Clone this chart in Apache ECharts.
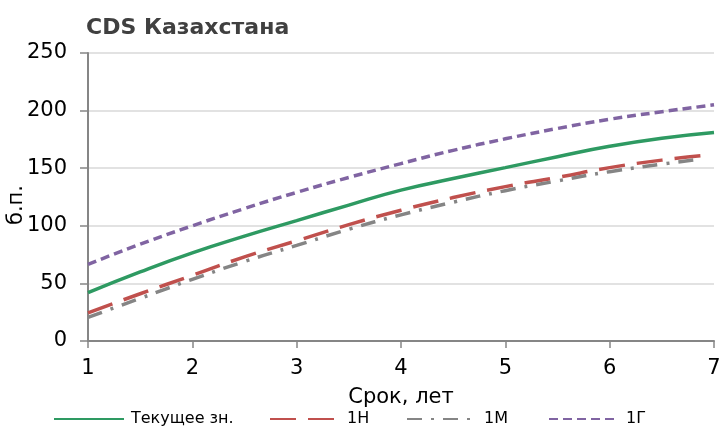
<!DOCTYPE html>
<html>
<head>
<meta charset="utf-8">
<script src="https://cdn.jsdelivr.net/npm/echarts@6/dist/echarts.min.js"></script>
<style>
  html, body { margin: 0; padding: 0; background: #fff; }
  #chart { width: 721px; height: 428px; }
</style>
</head>
<body>
<div id="chart"></div>
<script>
// Maturity in years and CDS spreads (basis points) for each curve
const tenors = [1, 1.5, 2, 2.5, 3, 3.5, 4, 4.5, 5, 5.5, 6, 6.5, 7];
const tenorsWeek = [1, 1.5, 2, 2.5, 3, 3.5, 4, 4.5, 5, 5.5, 6, 6.5, 6.9];
const tenorsMonth = [1, 1.5, 2, 2.5, 3, 3.5, 4, 4.5, 5, 5.5, 6, 6.5, 6.88];
const current = [42, 60, 76.5, 91, 104.5, 118, 131, 141, 150.5, 160, 169, 176, 181];
const weekAgo = [24.5, 41, 57, 73, 87, 101, 113.5, 124.5, 134, 142, 150.5, 157, 161];
const monthAgo = [20.5, 37, 53.5, 69, 83, 97, 109.5, 120.5, 130.5, 139, 147, 153.5, 158];
const yearAgo = [66.5, 84, 100, 115, 129, 142, 154, 165.5, 175.5, 184.5, 192.5, 199, 205];
const seriesNames = ['Текущее зн.', '1Н', '1М', '1Г'];
const xTicks = [1, 2, 3, 4, 5, 6, 7];
const yTicks = [0, 50, 100, 150, 200, 250];

const FONT = 'DejaVu Sans';
const pairs = (xs, ys) => xs.map((x, i) => [x, ys[i]]);

function lineSeries(name, xs, ys, color, dash) {
  return {
    name: name,
    type: 'line',
    data: pairs(xs, ys),
    smooth: true,
    symbol: 'none',
    lineStyle: { color: color, width: 3.5, type: dash, cap: 'butt' },
    itemStyle: { color: color }
  };
}

function legendAt(name, left) {
  return {
    data: [name],
    left: left,
    top: 411,
    itemWidth: 70,
    itemHeight: 14,
    padding: 0,
    itemStyle: { opacity: 0 },
    textStyle: { fontFamily: FONT, fontSize: 16, color: '#000', padding: [0, 0, 0, 2] }
  };
}

const chart = echarts.init(document.getElementById('chart'), null, { renderer: 'canvas' });
chart.setOption({
  animation: false,
  backgroundColor: '#fff',
  title: {
    text: 'CDS Казахстана',
    left: 81,
    top: 12,
    textStyle: { fontFamily: FONT, fontSize: 22, fontWeight: 'bold', color: '#404040' }
  },
  legend: [
    legendAt(seriesNames[0], 53),
    legendAt(seriesNames[1], 269),
    legendAt(seriesNames[2], 406),
    legendAt(seriesNames[3], 548)
  ],
  grid: { left: 88, right: 7, top: 53, bottom: 87, containLabel: false, outerBoundsMode: 'none' },
  xAxis: {
    type: 'value',
    min: xTicks[0],
    max: xTicks[xTicks.length - 1],
    interval: 1,
    name: 'Срок, лет',
    nameLocation: 'middle',
    nameGap: 46,
    nameMoveOverlap: false,
    nameTextStyle: { fontFamily: FONT, fontSize: 21, color: '#000' },
    axisLine: { lineStyle: { color: '#868686', width: 2 } },
    axisTick: { show: true, length: 7, lineStyle: { color: '#868686', width: 1.5 } },
    axisLabel: { fontFamily: FONT, fontSize: 21, color: '#000', margin: 17 },
    splitLine: { show: false }
  },
  yAxis: {
    type: 'value',
    min: yTicks[0],
    max: yTicks[yTicks.length - 1],
    interval: 50,
    name: 'б.п.',
    nameLocation: 'middle',
    nameRotate: 90,
    nameGap: 61,
    nameMoveOverlap: false,
    nameTextStyle: { fontFamily: FONT, fontSize: 21, color: '#000', padding: [0, 16, 0, 0] },
    axisLine: { show: true, lineStyle: { color: '#868686', width: 2 } },
    axisTick: { show: true, length: 8, lineStyle: { color: '#868686', width: 1.5 } },
    axisLabel: { fontFamily: FONT, fontSize: 21, color: '#000', margin: 21 },
    splitLine: { lineStyle: { color: '#d9d9d9', width: 1.5 } }
  },
  series: [
    lineSeries(seriesNames[0], tenors, current, '#2e9a62', 'solid'),
    lineSeries(seriesNames[1], tenorsWeek, weekAgo, '#c0504d', [26, 12]),
    lineSeries(seriesNames[2], tenorsMonth, monthAgo, '#858585', [15, 9, 3, 9]),
    lineSeries(seriesNames[3], tenors, yearAgo, '#8064a2', [9, 5])
  ]
});
</script>
</body>
</html>
